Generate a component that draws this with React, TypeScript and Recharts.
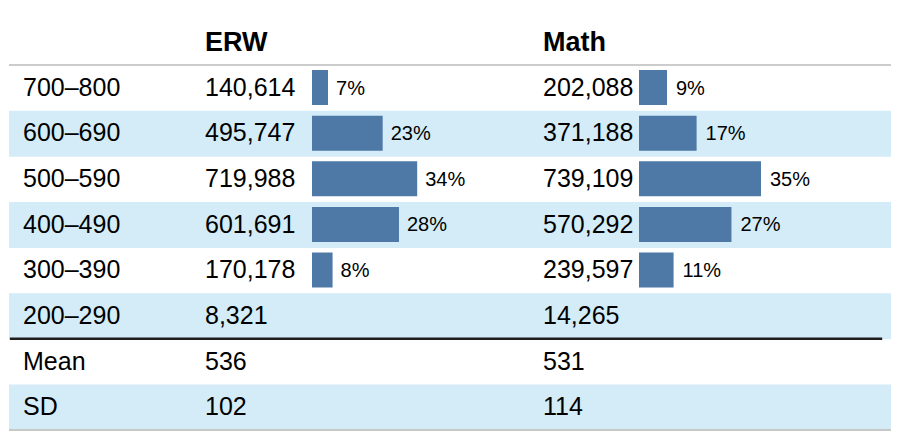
import React from 'react';
import { BarChart, Bar, XAxis, YAxis, ReferenceLine, LabelList } from 'recharts';

// ---- data ----
const rowLabels = ['700–800', '600–690', '500–590', '400–490', '300–390', '200–290', 'Mean', 'SD'];
const erwCounts = [140614, 495747, 719988, 601691, 170178, 8321];
const mathCounts = [202088, 371188, 739109, 570292, 239597, 14265];
const erwPercents = [7, 23, 34, 28, 8];
const mathPercents = [9, 17, 35, 27, 11];
const erwStats = [536, 102];
const mathStats = [531, 114];
const columnHeaders = ['ERW', 'Math'];
const shadedRows = ['600–690', '400–490', '200–290', 'SD'];

const fmt = (n: number) => n.toLocaleString('en-US');
const erwText = [...erwCounts.map(fmt), ...erwStats.map(String)];
const mathText = [...mathCounts.map(fmt), ...mathStats.map(String)];

const rows = rowLabels.map((label, i) => ({
  label,
  shade: shadedRows.includes(label) ? 1 : null,
  erw: i < erwPercents.length ? erwCounts[i] : null,
  math: i < mathPercents.length ? mathCounts[i] : null,
  erwPct: i < erwPercents.length ? erwPercents[i] : null,
  mathPct: i < mathPercents.length ? mathPercents[i] : null,
}));

// ---- layout / style ----
const W = 901;
const H = 438;
const TOP = 65;
const BOTTOM = 8;
const AXW = 1; // y-axis width (must be > 0 for ticks to render)
const FONT = "'Liberation Sans', Arial, Helvetica, sans-serif";
const BAND = '#d3ecf8';
const BAR = '#4e78a6';

const makeTick = (texts: string[], x: number) => (props: any) => {
  const { y, payload } = props;
  const idx = rowLabels.indexOf(payload.value);
  return (
    <text x={x} y={y + 8} fontSize={25} fill="#000" textAnchor="start" fontFamily={FONT}>
      {texts[idx]}
    </text>
  );
};

const layer: React.CSSProperties = { position: 'absolute', left: 0, top: 0 };

export default function App() {
  return (
    <div style={{ position: 'absolute', left: 0, top: 0, width: W, height: H, background: '#fff', fontFamily: FONT }}>
      {/* table background + row labels */}
      <div style={layer}>
        <BarChart
          width={W}
          height={H}
          data={rows}
          layout="vertical"
          barCategoryGap={0}
          margin={{ top: TOP, bottom: BOTTOM, left: 9 - AXW, right: 10 }}
        >
          <XAxis type="number" hide domain={[0, 1]} />
          <YAxis
            type="category"
            dataKey="label"
            width={AXW}
            axisLine={false}
            tickLine={false}
            interval={0}
            tick={makeTick(rowLabels, 23)}
          />
          <Bar dataKey="shade" fill={BAND} isAnimationActive={false} />
          <ReferenceLine y={rowLabels[0]} position="start" stroke="#cccccc" strokeWidth={2} ifOverflow="visible" />
          <ReferenceLine y={rowLabels[rowLabels.length - 1]} position="end" stroke="#c8c8c8" strokeWidth={2} ifOverflow="visible" />
          <ReferenceLine
            segment={[
              { x: 0.001, y: rowLabels[5] },
              { x: 0.99, y: rowLabels[5] },
            ]}
            position="end"
            stroke="#1e1e1e"
            strokeWidth={2.3}
            ifOverflow="visible"
          />
        </BarChart>
      </div>

      {/* ERW column */}
      <div style={layer}>
        <BarChart width={W} height={H} data={rows} layout="vertical" margin={{ top: TOP, bottom: BOTTOM, left: 312 - AXW, right: W - 528 }}>
          <XAxis type="number" hide domain={[36500, 1440000]} allowDataOverflow />
          <YAxis
            type="category"
            dataKey="label"
            width={AXW}
            axisLine={false}
            tickLine={false}
            interval={0}
            tick={makeTick(erwText, 205)}
          />
          <Bar dataKey="erw" fill={BAR} barSize={35} isAnimationActive={false}>
            <LabelList dataKey="erwPct" position="right" offset={8} fontSize={20} fill="#000" formatter={(v: any) => (v == null ? '' : `${v}%`)} />
          </Bar>
        </BarChart>
      </div>

      {/* Math column */}
      <div style={layer}>
        <BarChart width={W} height={H} data={rows} layout="vertical" margin={{ top: TOP, bottom: BOTTOM, left: 639 - AXW, right: 10 }}>
          <XAxis type="number" hide domain={[42000, 1482000]} allowDataOverflow />
          <YAxis
            type="category"
            dataKey="label"
            width={AXW}
            axisLine={false}
            tickLine={false}
            interval={0}
            tick={makeTick(mathText, 543)}
          />
          <Bar dataKey="math" fill={BAR} barSize={35} isAnimationActive={false}>
            <LabelList dataKey="mathPct" position="right" offset={9} fontSize={20} fill="#000" formatter={(v: any) => (v == null ? '' : `${v}%`)} />
          </Bar>
        </BarChart>
      </div>

      {/* column headers */}
      <svg style={layer} width={W} height={TOP}>
        <text x={205} y={51} fontSize={27} fontWeight="bold" fill="#000" fontFamily={FONT}>{columnHeaders[0]}</text>
        <text x={543} y={51} fontSize={27} fontWeight="bold" fill="#000" fontFamily={FONT}>{columnHeaders[1]}</text>
      </svg>
    </div>
  );
}
